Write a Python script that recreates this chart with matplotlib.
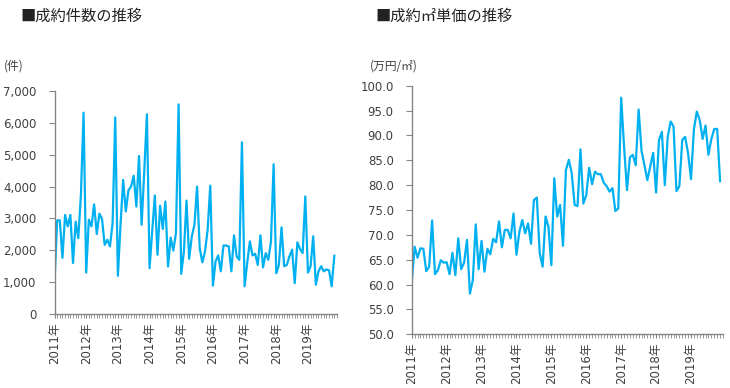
import matplotlib
matplotlib.use("Agg")
import matplotlib.pyplot as plt
import numpy as np

plt.rcParams['font.family'] = ['Noto Sans CJK JP', 'DejaVu Sans']

# monthly data, 2011-01 .. 2019-11
years = ["2011年", "2012年", "2013年", "2014年", "2015年", "2016年", "2017年", "2018年", "2019年"]

count = [1000, 2940, 2940, 1760, 3110, 2750, 3110, 1600, 2900, 2380,
         3750, 6320, 1300, 2960, 2750, 3440, 2510, 3150, 2980, 2170,
         2330, 2120, 2850, 6170, 1200, 2800, 4210, 3220, 3880, 4000,
         4340, 3370, 4960, 2800, 4500, 6270, 1440, 2600, 3720, 1860,
         3400, 2670, 3530, 1490, 2400, 1990, 2540, 6580, 1260, 1950,
         3560, 1730, 2430, 2800, 4000, 2070, 1620, 1960, 2640, 4030,
         890, 1650, 1840, 1340, 2150, 2150, 2120, 1340, 2470, 1810,
         1700, 5390, 870, 1600, 2280, 1840, 1890, 1540, 2470, 1460,
         1910, 1700, 2280, 4700, 1280, 1540, 2720, 1500, 1540, 1810,
         2020, 970, 2250, 2040, 1910, 3690, 1300, 1500, 2440, 920,
         1340, 1500, 1340, 1400, 1370, 870, 1830]

price = [60.3, 67.6, 65.4, 67.3, 67.2, 62.7, 63.6, 72.9, 62.1, 62.9,
         64.9, 64.4, 64.5, 62.1, 66.4, 61.9, 69.3, 63.1, 64.4, 69.0,
         58.2, 60.9, 72.1, 63.1, 68.8, 62.6, 67.2, 66.1, 69.2, 68.5,
         72.7, 67.5, 71.0, 71.0, 69.3, 74.3, 66.0, 70.6, 73.0, 70.3,
         72.3, 68.2, 77.0, 77.5, 66.3, 63.6, 73.7, 71.6, 63.9, 81.4,
         73.7, 76.0, 67.8, 83.0, 85.1, 82.4, 76.0, 75.8, 87.2, 76.3,
         78.0, 83.5, 80.2, 82.7, 82.2, 82.2, 80.5, 79.8, 78.7, 79.4,
         74.8, 75.3, 97.6, 87.7, 79.0, 85.6, 86.1, 84.0, 95.2, 86.9,
         84.0, 81.0, 83.8, 86.5, 78.5, 89.1, 90.7, 80.0, 89.7, 92.8,
         91.8, 78.8, 79.8, 89.1, 89.7, 86.4, 81.2, 91.2, 94.8, 93.1,
         89.3, 92.0, 86.1, 89.3, 91.3, 91.3, 80.8]

line_color = "#00B0F0"
axis_color = "#868686"
text_color = "#404040"
num_font = ['DejaVu Sans', 'Noto Sans CJK JP']

fig = plt.figure(figsize=(7.3, 3.88), dpi=100)


def style_axis(ax, n):
    for s in ["top", "right"]:
        ax.spines[s].set_visible(False)
    for s in ["left", "bottom"]:
        ax.spines[s].set_color(axis_color)
        ax.spines[s].set_linewidth(1.0)
    ax.set_xticks(np.arange(0, n, 12))
    ax.set_xticklabels(years, rotation=90, fontsize=8.5, family=num_font, color=text_color)
    ax.set_xticks(np.arange(0, n + 1), minor=True)
    ax.tick_params(axis="x", which="both", length=3, color=axis_color, pad=3)
    ax.tick_params(axis="y", length=4, color=axis_color, pad=9)
    for lab in ax.get_yticklabels():
        lab.set_family(num_font)
        lab.set_fontsize(8.5)
        lab.set_color(text_color)


# left: number of contracts
ax1 = fig.add_axes([0.0747, 0.1907, 0.3869, 0.5748])
x1 = np.arange(len(count))
ax1.plot(x1, count, color=line_color, linewidth=1.6)
ax1.set_ylim(0, 7000)
ax1.set_xlim(0, len(count) - 0.3)
ax1.set_yticks(np.arange(0, 7001, 1000))
ax1.set_yticklabels([f"{v:,}" for v in range(0, 7001, 1000)])
style_axis(ax1, len(count))

# right: price per m2
ax2 = fig.add_axes([0.564, 0.1384, 0.4264, 0.6407])
x2 = np.arange(len(price))
ax2.plot(x2, price, color=line_color, linewidth=1.6)
ax2.set_ylim(50, 100)
ax2.set_xlim(0, len(price) - 0.5)
ax2.set_yticks(np.arange(50, 100.1, 5))
ax2.set_yticklabels([f"{v:.1f}" for v in np.arange(50, 100.1, 5)])
style_axis(ax2, len(price))

fig.text(20 / 730, 1 - 16 / 388, "■成約件数の推移", fontsize=11, va="center", ha="left", color="#222222")
fig.text(375 / 730, 1 - 16 / 388, "■成約㎡単価の推移", fontsize=11, va="center", ha="left", color="#222222")
fig.text(4 / 730, 1 - 66 / 388, "(件)", fontsize=8.5, va="center", ha="left", color=text_color)
fig.text(370 / 730, 1 - 66 / 388, "(万円/㎡)", fontsize=8.5, va="center", ha="left", color=text_color)

fig.savefig("out.png", dpi=100)
